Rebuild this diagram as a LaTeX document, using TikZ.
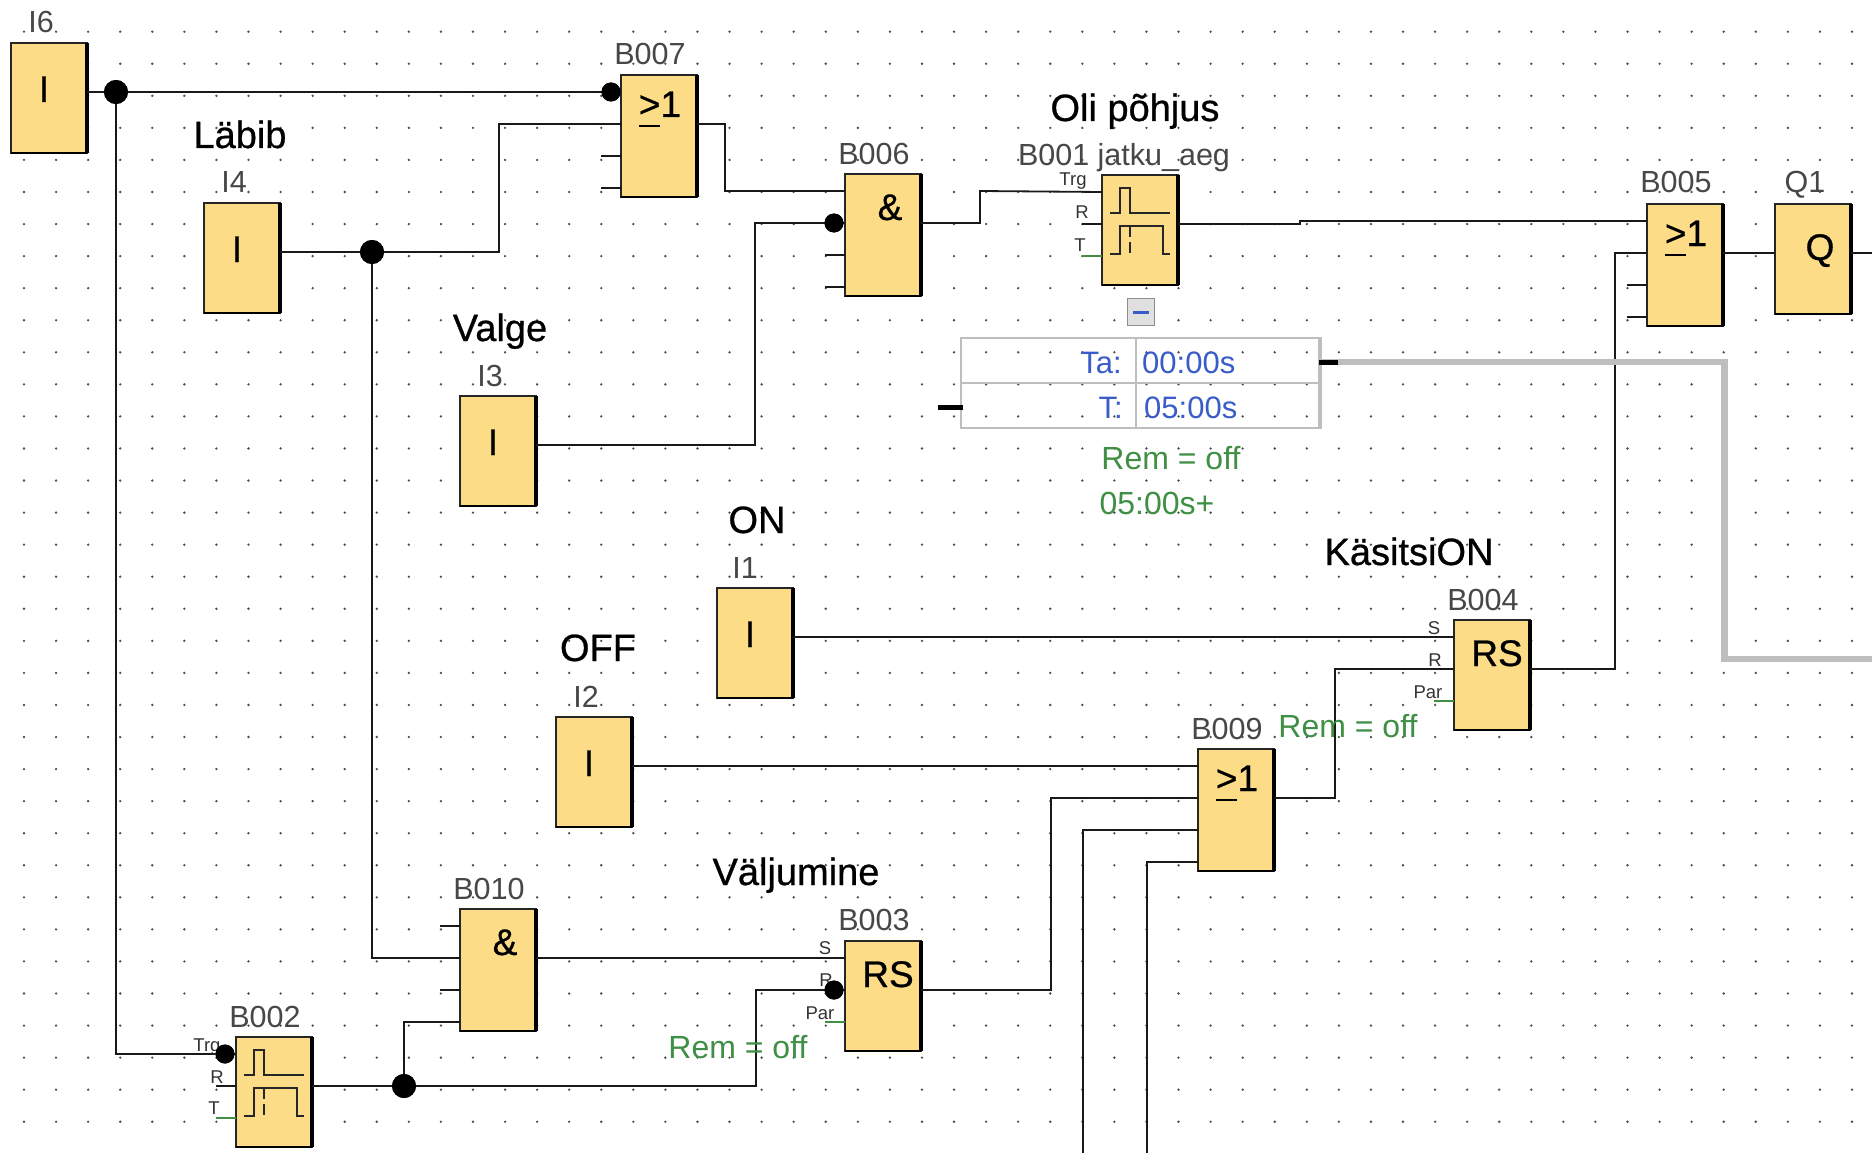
\documentclass[tikz,border=0pt]{standalone}
\usepackage{fontspec}
\setmainfont{Liberation Sans}
\newfontfamily\headfont[FakeBold=0.7]{Liberation Sans}
\definecolor{blockfill}{HTML}{FDDC88}
\definecolor{remgreen}{HTML}{3F8F45}
\definecolor{parblue}{HTML}{3A5CC8}
\definecolor{memgray}{HTML}{BEBEBE}
\newcommand{\geone}{\rlap{\rule[-0.27em]{0.58em}{1.5pt}}>1}

\begin{document}
\begin{tikzpicture}[
        x=1pt,y=-1pt,
        block/.style={draw=black!85,fill=blockfill,line width=1.5pt,anchor=north west,outer sep=0pt,inner sep=0pt,minimum width=76pt,minimum height=110pt},
        gate/.style={block,minimum height=122pt},
        lbl/.style={anchor=base,inner sep=0pt,text=black!72,font=\fontsize{30.5}{36}\selectfont},
        title/.style={anchor=base,inner sep=0pt,text=black,font=\headfont\fontsize{38}{44}\selectfont},
        sym/.style={anchor=base,inner sep=0pt,text=black,font=\headfont\fontsize{37}{44}\selectfont},
        pin/.style={anchor=base,inner sep=0pt,text=black!80,font=\fontsize{18.5}{20}\selectfont},
        rem/.style={anchor=base,inner sep=0pt,text=remgreen,font=\fontsize{32}{36}\selectfont},
        par/.style={inner sep=0pt,text=parblue,font=\fontsize{31}{36}\selectfont},
        wire/.style={draw=black!90,line width=1.8pt},
        dot/.style={circle,fill=black,inner sep=0pt,minimum size=24pt},
        smalldot/.style={dot,minimum size=19pt}
    ]
        \fill[white] (0,-1) rectangle (1872,1152);
        \useasboundingbox (0,-1) rectangle (1872,1152);

        % grid
        \foreach \i in {0,...,57}
            \foreach \j in {0,...,34}
                \fill[black!70] ({24+32.07*\i},{30.7+32.06*\j}) circle (1.3);

        % inputs and output
        \node[block] (I6) at (11,42) {};
        \node[block] (I4) at (204,202) {};
        \node[block] (I3) at (460,395) {};
        \node[block] (I1) at (717,587) {};
        \node[block] (I2) at (556,716) {};
        \node[block] (Q1) at (1775,203) {};

        % function blocks
        \node[gate] (B007) at (621,74) {};
        \node[gate] (B006) at (845,173) {};
        \node[block] (B001) at (1102,174) {};
        \node[gate] (B005) at (1647,203) {};
        \node[block] (B004) at (1454,619) {};
        \node[gate] (B009) at (1198,748) {};
        \node[gate] (B010) at (460,908) {};
        \node[block] (B003) at (845,940) {};
        \node[block] (B002) at (236,1036) {};

        % pins
        \foreach \bx in {I6,I4,I3,I1,I2,Q1,B007,B006,B001,B005,B004,B009,B010,B003,B002} {
            \foreach \n in {1,...,4}
                \coordinate (\bx-\n) at ([shift={(0,{17+32*(\n-1)})}]\bx.north west);
            \coordinate (\bx-o) at ([shift={(0,49)}]\bx.north east);
            \draw[black,line width=3.5pt] (\bx.north east) -- (\bx.south east);
            \draw[black,line width=2.4pt] (\bx.south east) -- (\bx.south west);
        }
        \coordinate (edgeQ) at (1872,252);
        \coordinate (edgeA) at (1083,1152);
        \coordinate (edgeB) at (1147,1152);
        \coordinate (edgeM) at (1872,658);

        % junctions
        \node[dot] (j1) at (116,91) {};
        \node[smalldot] (j2) at (611,91) {};
        \node[dot] (j3) at (372,251) {};
        \node[dot] (j4) at (404,1085) {};
        \node[smalldot] (j5) at (834,222) {};
        \node[smalldot] (j6) at (834,989) {};
        \node[smalldot] (j7) at (225,1053) {};

        % wires
        \draw[wire] (I6-o) -- (B007-1);
        \draw[wire] (j1) |- (B002-1);
        \draw[wire] (I4-o) -| (499,123) -- (B007-2);
        \draw[wire] (j3) |- (B010-2);
        \draw[wire] (B007-o) -| (725,190) -- (B006-1);
        \draw[wire] (I3-o) -| (755,222) -- (B006-2);
        \draw[wire] (B006-o) -| (980,190) -- (B001-1);
        \draw[wire] (B001-o) -| (1300,220) -- (B005-1);
        \draw[wire] (B005-o) -- (Q1-1 |- B005-o);
        \draw[wire] (Q1-o) -- (edgeQ);
        \draw[wire] (I1-o) -- (B004-1);
        \draw[wire] (I2-o) -- (B009-1);
        \draw[wire] (B009-o) -| (1335,668) -- (B004-2);
        \draw[wire] (B004-o) -| (1615,252) -- (B005-2);
        \draw[wire] (B010-o) -- (B003-1);
        \draw[wire] (B003-o) -| (1051,797) -- (B009-2);
        \draw[wire] (B009-3) -| (edgeA);
        \draw[wire] (B009-4) -| (edgeB);
        \draw[wire] (B002-o) -- (j4);
        \draw[wire] (j4) |- (B010-4);
        \draw[wire] (j4) -| (756,989) -- (B003-2);

        % open pins
        \foreach \p in {B007-3,B007-4,B006-3,B006-4,B005-3,B005-4,B010-1,B010-3,B001-2,B002-2}
            \draw[wire] (\p) -- ++(-20,0);
        \foreach \p in {B001-3,B002-3,B003-3,B004-3}
            \draw[draw=remgreen,line width=1.5pt] (\p) -- ++(-20,0);

        % timer symbols
        \foreach \bx in {B001,B002} {
            \begin{scope}[shift={(\bx.north west)},black!85,line width=2pt]
                \draw (8,38) -- (18,38) -- (18,13) -- (28,13) -- (28,38) -- (68,38);
                \draw (8,79) -- (18,79) -- (18,51) -- (61,51) -- (61,79) -- (68,79);
                \draw[dash pattern=on 11pt off 5pt] (28,51) -- (28,80);
            \end{scope}
        }

        % block symbols
        \foreach \bx in {I6,I4,I3,I1,I2}
            \node[sym] (sym\bx) at ([shift={(33,59)}]\bx.north west) {I};
        \foreach \bx in {B007,B005,B009}
            \node[sym] (sym\bx) at ([shift={(39,42)}]\bx.north west) {\geone};
        \foreach \bx in {B006,B010}
            \node[sym] (sym\bx) at ([shift={(45,46)}]\bx.north west) {\&};
        \foreach \bx in {B004,B003}
            \node[sym] (sym\bx) at ([shift={(43,46)}]\bx.north west) {RS};
        \node[sym] (symQ1) at ([shift={(45,56)}]Q1.north west) {Q};

        % block names
        \node[lbl] (lI6) at (41,32) {I6};
        \node[lbl] (lI4) at (234,192) {I4};
        \node[lbl] (lI3) at (490,385) {I3};
        \node[lbl] (lI1) at (745,577) {I1};
        \node[lbl] (lI2) at (586,706) {I2};
        \node[lbl] (lQ1) at (1805,192) {Q1};
        \node[lbl] (lB007) at (650,64) {B007};
        \node[lbl] (lB006) at (874,164) {B006};
        \node[lbl] (lB001) at (1124,165) {B001 jatku\_aeg};
        \node[lbl] (lB005) at (1676,192) {B005};
        \node[lbl] (lB004) at (1483,609) {B004};
        \node[lbl] (lB009) at (1227,738) {B009};
        \node[lbl] (lB010) at (489,898) {B010};
        \node[lbl] (lB003) at (874,929) {B003};
        \node[lbl] (lB002) at (265,1026) {B002};

        % comments in the plan
        \node[title] (tLabib) at (240,147) {Läbib};
        \node[title] (tValge) at (500,340) {Valge};
        \node[title] (tOli) at (1135,120) {Oli põhjus};
        \node[title] (tOn) at (757,532) {ON};
        \node[title] (tOff) at (598,660) {OFF};
        \node[title] (tKasitsi) at (1409,564) {KäsitsiON};
        \node[title] (tValj) at (796,884) {Väljumine};

        % pin names
        \node[pin] (pTrgA) at (1073,185) {Trg};
        \node[pin] (pRA) at (1082,218) {R};
        \node[pin] (pTA) at (1080,250) {T};
        \node[pin] (pTrgB) at (207,1050) {Trg};
        \node[pin] (pRB) at (217,1082) {R};
        \node[pin] (pTB) at (214,1113) {T};
        \node[pin] (pSC) at (1434,633) {S};
        \node[pin] (pRC) at (1435,665) {R};
        \node[pin] (pParC) at (1428,697) {Par};
        \node[pin] (pSD) at (825,953) {S};
        \node[pin] (pRD) at (826,985) {R};
        \node[pin] (pParD) at (820,1018) {Par};

        % junctions on top of wires and pin names
        \foreach \j/\r in {j1/12,j2/9.5,j3/12,j4/12,j5/9.5,j6/9.5,j7/9.5}
            \fill (\j) circle (\r);

        % remanence notes
        \node[rem] (rA) at (1171,468) {Rem = off};
        \node[rem] (rB) at (1157,513) {05:00s+};
        \node[rem] (rC) at (1348,736) {Rem = off};
        \node[rem] (rD) at (738,1057) {Rem = off};

        % parameter box
        \node[draw=black!45,fill=black!12,line width=1.5pt,inner sep=0pt,minimum size=27pt] (btn) at (1141,311) {};
        \draw[parblue,line width=3pt] ([xshift=-8]btn.center) -- ([xshift=8]btn.center);
        \node[draw=memgray,line width=2pt,inner sep=0pt,minimum width=358pt,minimum height=90pt] (tbl) at (1140,382) {};
        \coordinate (tblx) at (1136,382);
        \draw[memgray,line width=2pt] (tbl.west) -- (tbl.east);
        \draw[memgray,line width=2.5pt] (tblx |- tbl.north) -- (tblx |- tbl.south);
        \draw[memgray,line width=3.5pt] (tbl.north east) -- (tbl.south east);
        \node[par,anchor=base east] (pTa) at (1122,372) {Ta:};
        \node[par,anchor=base west] (pTaV) at (1142,372) {00:00s};
        \node[par,anchor=base east] (pT) at (1123,417) {T:};
        \node[par,anchor=base west] (pTV) at (1144,417) {05:00s};
        \coordinate (tblL) at (963,406);
        \coordinate (tblR) at (1319,361);
        \draw[memgray,line width=6.5pt] (tblR) -| (1724.5,658) -- (edgeM);
        \draw[black,line width=5pt] (tblL) -- ++(-25,0);
        \draw[black,line width=5pt] (tblR) -- ++(19,0);
    \end{tikzpicture}
\end{document}
